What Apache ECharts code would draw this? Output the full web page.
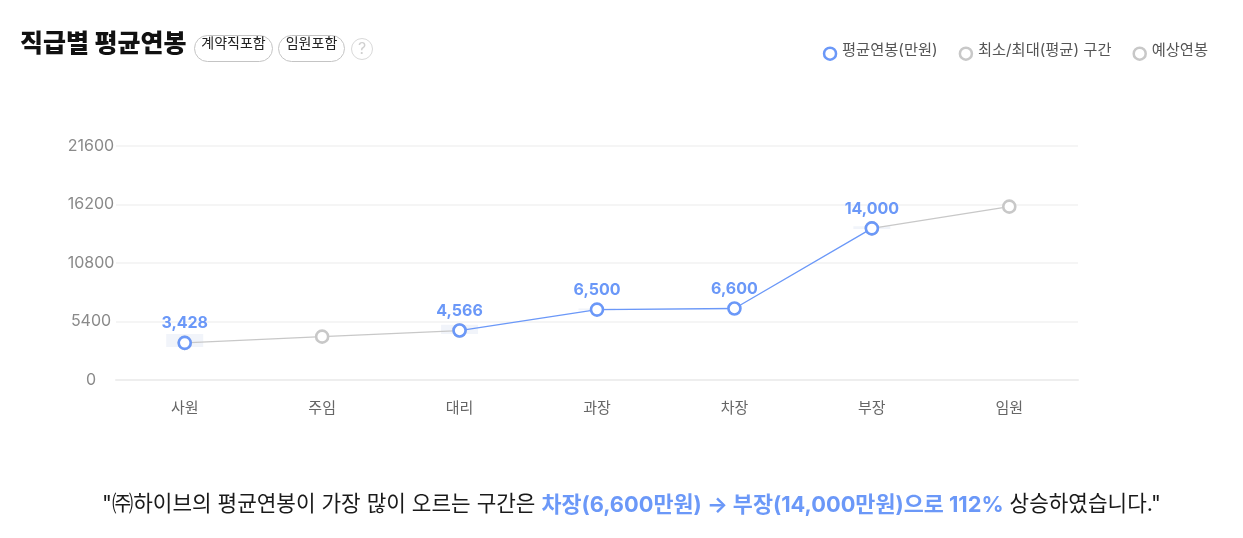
<!DOCTYPE html>
<html>
<head>
<meta charset="utf-8">
<script src="https://cdn.jsdelivr.net/npm/echarts@6/dist/echarts.min.js"></script>
<style>
html, body { margin: 0; padding: 0; background: #fff; }
#chart { width: 1243px; height: 538px; }
</style>
</head>
<body>
<div id="chart"></div>
<script>
const categories = ['사원', '주임', '대리', '과장', '차장', '부장', '임원']
const yTicks = [0, 5400, 10800, 16200, 21600]
// 평균연봉: 사원 is an isolated point, 대리~부장 is the blue run
const avgSalary = [3428, null, 4566, 6500, 6600, 14000, null]
const expectedSalary = [3428, 4000, 4566, null, null, 14000, 16000]
const rangeBase = [3050, null, 4250, 6450, null, 13950, null]
const rangeSize = [1200, null, 850, 150, null, 250, null]

const FONT = "Inter, 'Noto Sans CJK KR', sans-serif"
const BLUE = '#6b98f8'
const GREY = '#c8c8c8'

const chart = echarts.init(document.getElementById('chart'), null, { renderer: 'canvas' })

function pill(x, w, label) {
  return [
    { type: 'rect', shape: { x: x + 0.5, y: 35.5, width: w, height: 26, r: 13 }, style: { fill: '#fff', stroke: '#c4c4c4', lineWidth: 1 } },
    { type: 'text', x: x + w / 2 + 0.5, y: 44, style: { text: label, font: '14px ' + FONT, fill: '#222', align: 'center', verticalAlign: 'middle' } },
  ]
}

chart.setOption({
  animation: false,
  textStyle: { fontFamily: FONT },
  grid: { left: 116, right: 165, top: 146, height: 234 },
  legend: {
    top: 38,
    right: 30,
    itemWidth: 12,
    itemHeight: 12,
    itemGap: 21,
    icon: 'circle',
    formatter: (name) => `{t|${name}}`,
    textStyle: {
      color: '#555',
      fontFamily: FONT,
      rich: { t: { fontSize: 15.3, color: '#555', fontFamily: FONT, padding: [0, 0, 6, 1] } },
    },
    data: [
      { name: '평균연봉(만원)', itemStyle: { color: '#fff', borderColor: BLUE, borderWidth: 2.5 } },
      { name: '최소/최대(평균) 구간', itemStyle: { color: '#fff', borderColor: GREY, borderWidth: 2.5 } },
      { name: '예상연봉', itemStyle: { color: '#fff', borderColor: GREY, borderWidth: 2.5 } },
    ],
  },
  xAxis: {
    type: 'category',
    data: categories,
    axisLine: { lineStyle: { color: '#eeeeee', width: 2 } },
    axisTick: { show: false },
    axisLabel: { color: '#666', fontSize: 15, margin: 21 },
  },
  yAxis: {
    type: 'value',
    min: yTicks[0],
    max: yTicks[yTicks.length - 1],
    interval: yTicks[1],
    axisLine: { show: false },
    axisTick: { show: false },
    axisLabel: {
      color: '#8a8a8a',
      fontSize: 16,
      align: 'center',
      margin: 25,
      padding: [0, 0, 5, 0],
      formatter: (v) => String(v),
    },
    splitLine: { lineStyle: { color: '#f5f5f5', width: 2 } },
  },
  series: [
    {
      name: '__base',
      type: 'bar',
      stack: 'range',
      barWidth: 37,
      silent: true,
      itemStyle: { color: 'transparent' },
      data: rangeBase,
      z: 1,
    },
    {
      name: '최소/최대(평균) 구간',
      type: 'bar',
      stack: 'range',
      barWidth: 37,
      itemStyle: { color: '#f1f4fa' },
      data: rangeSize,
      z: 1,
    },
    {
      name: '예상연봉',
      type: 'line',
      data: expectedSalary,
      symbol: 'circle',
      symbolSize: 12,
      showAllSymbol: true,
      lineStyle: { color: GREY, width: 1.3 },
      itemStyle: { color: '#fff', borderColor: GREY, borderWidth: 2.6 },
      z: 3,
    },
    {
      name: '평균연봉(만원)',
      type: 'line',
      data: avgSalary,
      symbol: 'circle',
      symbolSize: 12,
      showAllSymbol: true,
      lineStyle: { color: BLUE, width: 1.3 },
      itemStyle: { color: '#fff', borderColor: BLUE, borderWidth: 2.6 },
      label: {
        show: true,
        position: 'top',
        distance: 4,
        color: BLUE,
        fontSize: 16,
        fontWeight: 700,
        formatter: (p) => p.value.toLocaleString('en-US'),
      },
      z: 4,
    },
  ],
  graphic: [
    { type: 'text', x: 20, y: 44, style: { text: '직급별 평균연봉', font: '800 25px ' + FONT, fill: '#111', verticalAlign: 'middle' } },
    ...pill(194, 78, '계약직포함'),
    ...pill(278, 66, '임원포함'),
    { type: 'circle', shape: { cx: 362, cy: 49, r: 10.5 }, style: { fill: '#fff', stroke: '#d8d8d8', lineWidth: 1 } },
    { type: 'text', x: 362, y: 49, style: { text: '?', font: '16px ' + FONT, fill: '#d0d0d0', align: 'center', verticalAlign: 'middle' } },
    {
      type: 'text',
      x: 631.5,
      y: 505,
      style: {
        align: 'center',
        verticalAlign: 'middle',
        rich: {
          n: { fontSize: 21.3, fontFamily: FONT, fill: '#1a1a1a' },
          b: { fontSize: 21.8, fontFamily: FONT, fontWeight: 700, fill: BLUE },
        },
        text: '{n|"㈜하이브의 평균연봉이 가장 많이 오르는 구간은 }{b|차장(6,600만원) → 부장(14,000만원)으로 112%}{n| 상승하였습니다."}',
      },
    },
  ],
})
</script>
</body>
</html>
